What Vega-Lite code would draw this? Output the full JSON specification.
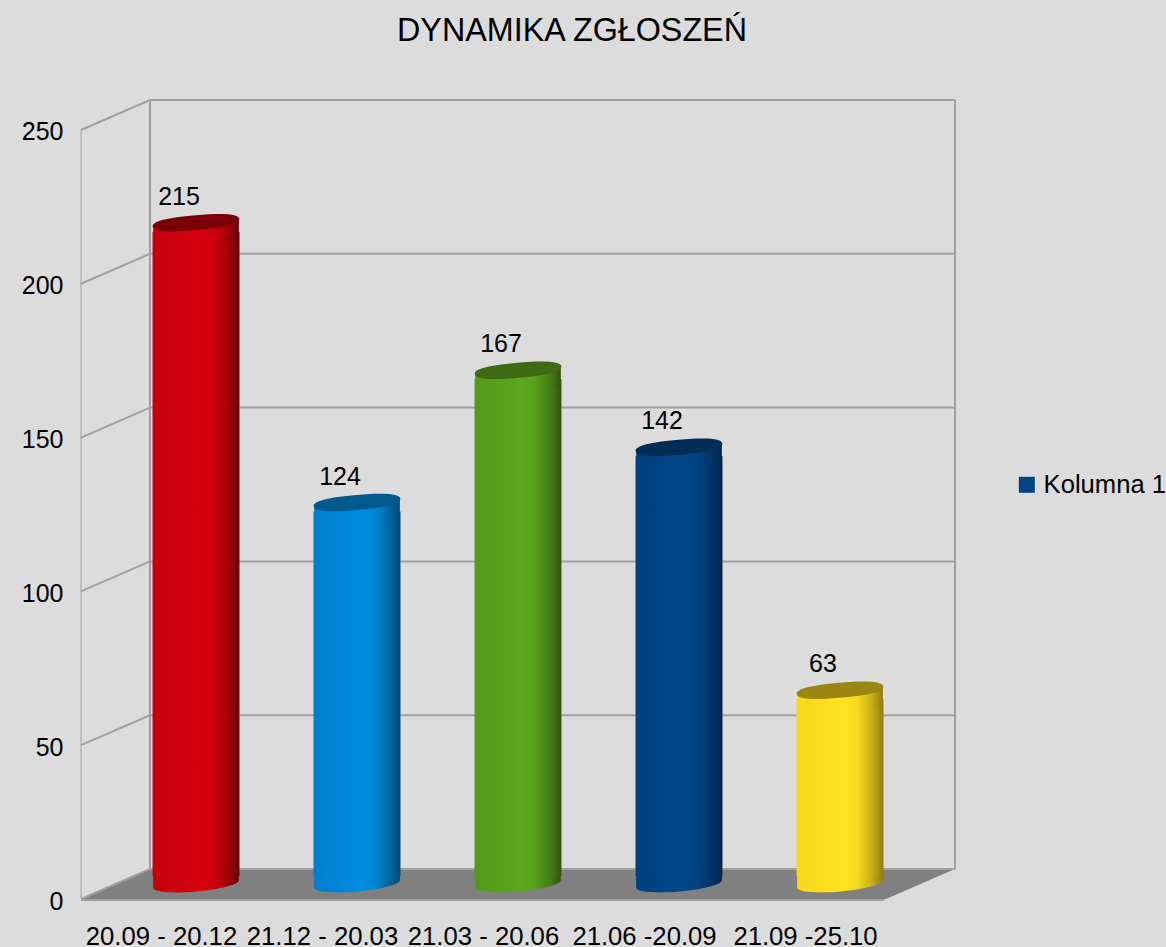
{"$schema":"https://vega.github.io/schema/vega-lite/v6.json","width":1166,"height":947,"padding":0,"autosize":{"type":"none"},"background":"#DCDCDC","title":{"text":"DYNAMIKA ZGŁOSZEŃ","font":"Liberation Sans","fontSize":32.3,"fontWeight":"normal","color":"#000000","anchor":"middle","dx":-11,"offset":-47},"config":{"view":{"stroke":null},"text":{"font":"Liberation Sans"}},
"datasets":{"bars":[{"period":"20.09 - 20.12","value":215,"series":"Kolumna 1"},{"period":"21.12 - 20.03","value":124,"series":"Kolumna 1"},{"period":"21.03 - 20.06","value":167,"series":"Kolumna 1"},{"period":"21.06 -20.09","value":142,"series":"Kolumna 1"},{"period":"21.09 -25.10","value":63,"series":"Kolumna 1"}],
"floor":[{"left":0,"right":5,"level":0},{"left":0.4286,"right":5.4286,"level":9.75}],
"frame":[{"segment":"g0","across":0.4286,"level":9.75},{"segment":"g0","across":5.4286,"level":9.75},{"segment":"g50","across":0.4286,"level":59.75},{"segment":"g50","across":5.4286,"level":59.75},{"segment":"g100","across":0.4286,"level":109.75},{"segment":"g100","across":5.4286,"level":109.75},{"segment":"g150","across":0.4286,"level":159.75},{"segment":"g150","across":5.4286,"level":159.75},{"segment":"g200","across":0.4286,"level":209.75},{"segment":"g200","across":5.4286,"level":209.75},{"segment":"g250","across":0.4286,"level":259.75},{"segment":"g250","across":5.4286,"level":259.75},
{"segment":"d0","across":0,"level":0},{"segment":"d0","across":0.4286,"level":9.75},{"segment":"d50","across":0,"level":50},{"segment":"d50","across":0.4286,"level":59.75},{"segment":"d100","across":0,"level":100},{"segment":"d100","across":0.4286,"level":109.75},{"segment":"d150","across":0,"level":150},{"segment":"d150","across":0.4286,"level":159.75},{"segment":"d200","across":0,"level":200},{"segment":"d200","across":0.4286,"level":209.75},{"segment":"d250","across":0,"level":250},{"segment":"d250","across":0.4286,"level":259.75},
{"segment":"backleft","across":0.4286,"level":9.75},{"segment":"backleft","across":0.4286,"level":259.75},{"segment":"backright","across":5.4286,"level":9.75},{"segment":"backright","across":5.4286,"level":259.75},{"segment":"bottom","across":0,"level":-0.3},{"segment":"bottom","across":4.99,"level":-0.3}],
"front":[{"across":0,"level":0},{"across":0,"level":250}]},
"resolve":{"scale":{"x":"independent"},"axis":{"x":"independent","y":"independent"}},
"layer":[
{"encoding":{"x":{"type":"quantitative","field":"across","scale":{"domain":[-0.5031,6.739],"nice":false,"zero":false},"axis":null},"y":{"type":"quantitative","field":"level","scale":{"domain":[-15.6,292.25],"nice":false,"zero":false},"axis":{"values":[0,50,100,150,200,250],"title":null,"grid":false,"domain":false,"ticks":false,"offset":-81,"labelPadding":18,"labelOffset":2,"labelFont":"Liberation Sans","labelFontSize":25,"labelColor":"#000000","labelBound":false,"labelFlush":false}}},
"layer":[
{"data":{"name":"floor"},"mark":{"type":"area","orient":"horizontal","fill":"#808080"},"encoding":{"x":{"type":"quantitative","field":"left","scale":{"domain":[-0.5031,6.739],"nice":false,"zero":false},"axis":null},"x2":{"field":"right"}}},
{"data":{"name":"frame"},"mark":{"type":"line","stroke":"#A0A0A0","strokeWidth":2},"encoding":{"detail":{"field":"segment"},"order":{"field":"across"}}},
{"data":{"name":"front"},"mark":{"type":"line","stroke":"#A0A0A0","strokeWidth":1},"encoding":{}}
]},
{"data":{"name":"bars"},"encoding":{"x":{"type":"nominal","field":"period","sort":null,"scale":{"domain":["20.09 - 20.12","21.12 - 20.03","21.03 - 20.06","21.06 -20.09","21.09 -25.10"],"range":[115.5,920.5],"round":false,"paddingInner":0.46,"paddingOuter":0.23},"axis":{"title":null,"domain":false,"ticks":false,"grid":false,"offset":-23,"labelPadding":0,"labelAngle":0,"labelOffset":-34.5,"labelOverlap":false,"labelBound":false,"labelFlush":false,"labelFont":"Liberation Sans","labelFontSize":25.7,"labelColor":"#000000"}},"y":{"type":"quantitative","field":"value","scale":{"domain":[-15.6,292.25],"nice":false,"zero":false},"axis":null}},
"layer":[
{"mark":{"type":"bar","yOffset":-15,"y2Offset":-15},"encoding":{"y":{"datum":0,"type":"quantitative","scale":{"domain":[-15.6,292.25],"nice":false,"zero":false},"axis":null},"color":{"field":"series","type":"nominal","scale":{"range":["#004586"]},"legend":{"title":null,"orient":"none","legendX":1014,"legendY":472,"symbolType":"square","symbolSize":256,"symbolStrokeWidth":0,"symbolOpacity":1,"labelFont":"Liberation Sans","labelFontSize":25.6,"labelColor":"#000000","labelOffset":4,"padding":0}}}},
{"transform":[{"filter":"datum.period==='20.09 - 20.12'"}],"layer":[
{"mark":{"type":"point","filled":true,"opacity":1,"size":7569,"yOffset":-15,"shape":"M-.985,.087C-.98,.182,-.535,.220,.015,.171C.565,.123,.99,.007,.985,-.087L.985,-.4L-.985,-.4Z","fill":{"gradient":"linear","x1":0,"y1":0,"x2":1,"y2":0,"stops":[{"offset":0,"color":"#C4000B"},{"offset":0.55,"color":"#D7000F"},{"offset":0.7,"color":"#D0000E"},{"offset":0.88,"color":"#A00008"},{"offset":1,"color":"#660005"}]}},"encoding":{"y":{"datum":0,"type":"quantitative","scale":{"domain":[-15.6,292.25],"nice":false,"zero":false},"axis":null}}},
{"mark":{"type":"bar","yOffset":-6,"y2Offset":-23,"fill":{"gradient":"linear","x1":0,"y1":0,"x2":1,"y2":0,"stops":[{"offset":0,"color":"#C4000B"},{"offset":0.55,"color":"#D7000F"},{"offset":0.7,"color":"#D0000E"},{"offset":0.88,"color":"#A00008"},{"offset":1,"color":"#660005"}]}},"encoding":{"y2":{"datum":0}}},
{"mark":{"type":"point","filled":true,"opacity":1,"size":7569,"yOffset":-15,"shape":"M-.985,.087L-.985,.4L.985,.4L.985,-.087Z","fill":{"gradient":"linear","x1":0,"y1":0,"x2":1,"y2":0,"stops":[{"offset":0,"color":"#C4000B"},{"offset":0.55,"color":"#D7000F"},{"offset":0.7,"color":"#D0000E"},{"offset":0.88,"color":"#A00008"},{"offset":1,"color":"#660005"}]}}},
{"mark":{"type":"point","filled":true,"opacity":1,"size":7569,"angle":-5,"yOffset":-15,"fill":"#7A0006","shape":"M-1,0C-1,-.12,-.65,-.172,0,-.172C.65,-.172,1,-.12,1,0C1,.12,.65,.172,0,.172C-.65,.172,-1,.12,-1,0Z"}}]},
{"transform":[{"filter":"datum.period==='21.12 - 20.03'"}],"layer":[
{"mark":{"type":"point","filled":true,"opacity":1,"size":7569,"yOffset":-15,"shape":"M-.985,.087C-.98,.182,-.535,.220,.015,.171C.565,.123,.99,.007,.985,-.087L.985,-.4L-.985,-.4Z","fill":{"gradient":"linear","x1":0,"y1":0,"x2":1,"y2":0,"stops":[{"offset":0,"color":"#007FCC"},{"offset":0.55,"color":"#008DE2"},{"offset":0.7,"color":"#0087D6"},{"offset":0.88,"color":"#00689F"},{"offset":1,"color":"#004A78"}]}},"encoding":{"y":{"datum":0,"type":"quantitative","scale":{"domain":[-15.6,292.25],"nice":false,"zero":false},"axis":null}}},
{"mark":{"type":"bar","yOffset":-6,"y2Offset":-23,"fill":{"gradient":"linear","x1":0,"y1":0,"x2":1,"y2":0,"stops":[{"offset":0,"color":"#007FCC"},{"offset":0.55,"color":"#008DE2"},{"offset":0.7,"color":"#0087D6"},{"offset":0.88,"color":"#00689F"},{"offset":1,"color":"#004A78"}]}},"encoding":{"y2":{"datum":0}}},
{"mark":{"type":"point","filled":true,"opacity":1,"size":7569,"yOffset":-15,"shape":"M-.985,.087L-.985,.4L.985,.4L.985,-.087Z","fill":{"gradient":"linear","x1":0,"y1":0,"x2":1,"y2":0,"stops":[{"offset":0,"color":"#007FCC"},{"offset":0.55,"color":"#008DE2"},{"offset":0.7,"color":"#0087D6"},{"offset":0.88,"color":"#00689F"},{"offset":1,"color":"#004A78"}]}}},
{"mark":{"type":"point","filled":true,"opacity":1,"size":7569,"angle":-5,"yOffset":-15,"fill":"#005A8E","shape":"M-1,0C-1,-.12,-.65,-.172,0,-.172C.65,-.172,1,-.12,1,0C1,.12,.65,.172,0,.172C-.65,.172,-1,.12,-1,0Z"}}]},
{"transform":[{"filter":"datum.period==='21.03 - 20.06'"}],"layer":[
{"mark":{"type":"point","filled":true,"opacity":1,"size":7569,"yOffset":-15,"shape":"M-.985,.087C-.98,.182,-.535,.220,.015,.171C.565,.123,.99,.007,.985,-.087L.985,-.4L-.985,-.4Z","fill":{"gradient":"linear","x1":0,"y1":0,"x2":1,"y2":0,"stops":[{"offset":0,"color":"#54981B"},{"offset":0.55,"color":"#5CA81E"},{"offset":0.7,"color":"#58A01C"},{"offset":0.88,"color":"#447C15"},{"offset":1,"color":"#2F570E"}]}},"encoding":{"y":{"datum":0,"type":"quantitative","scale":{"domain":[-15.6,292.25],"nice":false,"zero":false},"axis":null}}},
{"mark":{"type":"bar","yOffset":-6,"y2Offset":-23,"fill":{"gradient":"linear","x1":0,"y1":0,"x2":1,"y2":0,"stops":[{"offset":0,"color":"#54981B"},{"offset":0.55,"color":"#5CA81E"},{"offset":0.7,"color":"#58A01C"},{"offset":0.88,"color":"#447C15"},{"offset":1,"color":"#2F570E"}]}},"encoding":{"y2":{"datum":0}}},
{"mark":{"type":"point","filled":true,"opacity":1,"size":7569,"yOffset":-15,"shape":"M-.985,.087L-.985,.4L.985,.4L.985,-.087Z","fill":{"gradient":"linear","x1":0,"y1":0,"x2":1,"y2":0,"stops":[{"offset":0,"color":"#54981B"},{"offset":0.55,"color":"#5CA81E"},{"offset":0.7,"color":"#58A01C"},{"offset":0.88,"color":"#447C15"},{"offset":1,"color":"#2F570E"}]}}},
{"mark":{"type":"point","filled":true,"opacity":1,"size":7569,"angle":-5,"yOffset":-15,"fill":"#3C6B13","shape":"M-1,0C-1,-.12,-.65,-.172,0,-.172C.65,-.172,1,-.12,1,0C1,.12,.65,.172,0,.172C-.65,.172,-1,.12,-1,0Z"}}]},
{"transform":[{"filter":"datum.period==='21.06 -20.09'"}],"layer":[
{"mark":{"type":"point","filled":true,"opacity":1,"size":7569,"yOffset":-15,"shape":"M-.985,.087C-.98,.182,-.535,.220,.015,.171C.565,.123,.99,.007,.985,-.087L.985,-.4L-.985,-.4Z","fill":{"gradient":"linear","x1":0,"y1":0,"x2":1,"y2":0,"stops":[{"offset":0,"color":"#00417E"},{"offset":0.55,"color":"#004789"},{"offset":0.7,"color":"#004383"},{"offset":0.88,"color":"#003566"},{"offset":1,"color":"#002448"}]}},"encoding":{"y":{"datum":0,"type":"quantitative","scale":{"domain":[-15.6,292.25],"nice":false,"zero":false},"axis":null}}},
{"mark":{"type":"bar","yOffset":-6,"y2Offset":-23,"fill":{"gradient":"linear","x1":0,"y1":0,"x2":1,"y2":0,"stops":[{"offset":0,"color":"#00417E"},{"offset":0.55,"color":"#004789"},{"offset":0.7,"color":"#004383"},{"offset":0.88,"color":"#003566"},{"offset":1,"color":"#002448"}]}},"encoding":{"y2":{"datum":0}}},
{"mark":{"type":"point","filled":true,"opacity":1,"size":7569,"yOffset":-15,"shape":"M-.985,.087L-.985,.4L.985,.4L.985,-.087Z","fill":{"gradient":"linear","x1":0,"y1":0,"x2":1,"y2":0,"stops":[{"offset":0,"color":"#00417E"},{"offset":0.55,"color":"#004789"},{"offset":0.7,"color":"#004383"},{"offset":0.88,"color":"#003566"},{"offset":1,"color":"#002448"}]}}},
{"mark":{"type":"point","filled":true,"opacity":1,"size":7569,"angle":-5,"yOffset":-15,"fill":"#002C56","shape":"M-1,0C-1,-.12,-.65,-.172,0,-.172C.65,-.172,1,-.12,1,0C1,.12,.65,.172,0,.172C-.65,.172,-1,.12,-1,0Z"}}]},
{"transform":[{"filter":"datum.period==='21.09 -25.10'"}],"layer":[
{"mark":{"type":"point","filled":true,"opacity":1,"size":7569,"yOffset":-15,"shape":"M-.985,.087C-.98,.182,-.535,.220,.015,.171C.565,.123,.99,.007,.985,-.087L.985,-.4L-.985,-.4Z","fill":{"gradient":"linear","x1":0,"y1":0,"x2":1,"y2":0,"stops":[{"offset":0,"color":"#F7D81C"},{"offset":0.55,"color":"#FFE320"},{"offset":0.7,"color":"#F5DA1E"},{"offset":0.88,"color":"#C4AA17"},{"offset":1,"color":"#8F7C10"}]}},"encoding":{"y":{"datum":0,"type":"quantitative","scale":{"domain":[-15.6,292.25],"nice":false,"zero":false},"axis":null}}},
{"mark":{"type":"bar","yOffset":-6,"y2Offset":-23,"fill":{"gradient":"linear","x1":0,"y1":0,"x2":1,"y2":0,"stops":[{"offset":0,"color":"#F7D81C"},{"offset":0.55,"color":"#FFE320"},{"offset":0.7,"color":"#F5DA1E"},{"offset":0.88,"color":"#C4AA17"},{"offset":1,"color":"#8F7C10"}]}},"encoding":{"y2":{"datum":0}}},
{"mark":{"type":"point","filled":true,"opacity":1,"size":7569,"yOffset":-15,"shape":"M-.985,.087L-.985,.4L.985,.4L.985,-.087Z","fill":{"gradient":"linear","x1":0,"y1":0,"x2":1,"y2":0,"stops":[{"offset":0,"color":"#F7D81C"},{"offset":0.55,"color":"#FFE320"},{"offset":0.7,"color":"#F5DA1E"},{"offset":0.88,"color":"#C4AA17"},{"offset":1,"color":"#8F7C10"}]}}},
{"mark":{"type":"point","filled":true,"opacity":1,"size":7569,"angle":-5,"yOffset":-15,"fill":"#9C8612","shape":"M-1,0C-1,-.12,-.65,-.172,0,-.172C.65,-.172,1,-.12,1,0C1,.12,.65,.172,0,.172C-.65,.172,-1,.12,-1,0Z"}}]},
{"mark":{"type":"text","font":"Liberation Sans","fontSize":25,"color":"#000000","xOffset":-17,"yOffset":-41,"baseline":"middle"},"encoding":{"text":{"field":"value","type":"quantitative"}}}
]}
]}
